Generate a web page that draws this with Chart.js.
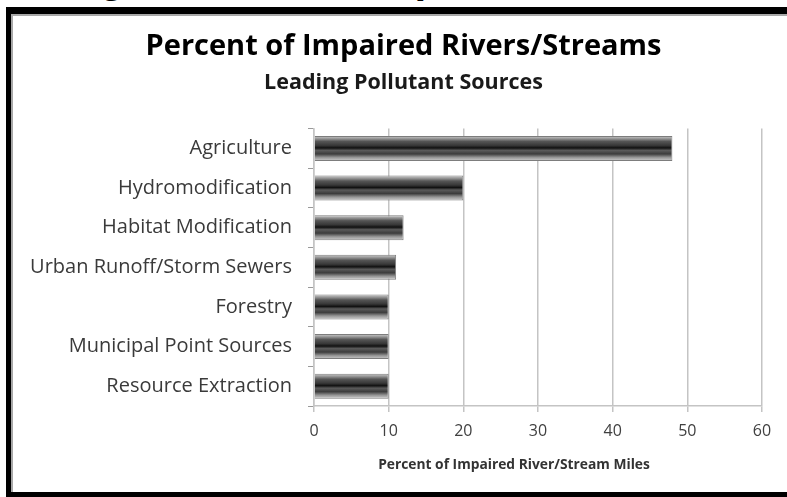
<!DOCTYPE html>
<html>
<head>
<meta charset="utf-8">
<script src="https://cdn.jsdelivr.net/npm/chart.js@4/dist/chart.umd.min.js"></script>
<style>
  html, body { margin: 0; padding: 0; background: #fff; overflow: hidden; }
  body { width: 787px; height: 497px; position: relative; }
  #cut { position: absolute; left: -36px; top: -43px; font: bold 42px "Liberation Sans", Arial, sans-serif; line-height: 42px; color: #000; white-space: nowrap; }
  #frame { position: absolute; left: 6px; top: 7px; width: 820px; height: 490px; box-sizing: border-box;
           border-left: 5px solid #000; border-top: 7px solid #000; border-bottom: 5px solid #000;
           box-shadow: inset 2px 2px 0 #a8a8a8; pointer-events: none; }
  #c { position: absolute; left: 0; top: 0; }
</style>
</head>
<body>
<div id="cut">Leading Sources of Impairment</div>
<canvas id="c" width="787" height="497"></canvas>
<div id="frame"></div>
<script>
const categories = ['Agriculture', 'Hydromodification', 'Habitat Modification', 'Urban Runoff/Storm Sewers', 'Forestry', 'Municipal Point Sources', 'Resource Extraction'];
const percentImpaired = [48, 20, 12, 11, 10, 10, 10];
const xTickValues = [0, 10, 20, 30, 40, 50, 60];
const chartTitle = 'Percent of Impaired Rivers/Streams';
const chartSubtitle = 'Leading Pollutant Sources';
const xAxisTitle = 'Percent of Impaired River/Stream Miles';

const FONT = '"Open Sans", Lato, sans-serif';
const BAR_PCT = 0.63;

function barGradient(ctx) {
  const chart = ctx.chart;
  const area = chart.chartArea;
  if (!area || !chart.scales.y) return '#444';
  const yScale = chart.scales.y;
  const yc = yScale.getPixelForValue(ctx.dataIndex);
  const h = (area.bottom - area.top) / categories.length * BAR_PCT;
  const g = chart.ctx.createLinearGradient(0, yc - h / 2, 0, yc + h / 2);
  g.addColorStop(0.00, '#d0d0d0');
  g.addColorStop(0.12, '#8f8f8f');
  g.addColorStop(0.22, '#555555');
  g.addColorStop(0.38, '#383838');
  g.addColorStop(0.48, '#111111');
  g.addColorStop(0.58, '#5a5a5a');
  g.addColorStop(0.72, '#3c3c3c');
  g.addColorStop(0.86, '#959595');
  g.addColorStop(1.00, '#cfcfcf');
  return g;
}

// Let long category labels extend into the left padding instead of being clipped,
// and offset the x-axis title as in the original chart.
const layoutTweaks = {
  id: 'layoutTweaks',
  afterLayout(chart) {
    const y = chart.scales.y;
    if (y) y.left = 0;
  },
  beforeDraw(chart) {
    const s = chart.scales.x;
    if (s && !s.__shifted) {
      const orig = s.drawTitle.bind(s);
      s.drawTitle = function () {
        const c = this.ctx;
        c.save();
        c.translate(-24, 0);
        orig();
        c.restore();
      };
      s.__shifted = true;
    }
  }
};

new Chart(document.getElementById('c'), {
  type: 'bar',
  data: {
    labels: categories,
    datasets: [{
      label: 'Percent of Impaired River/Stream Miles',
      data: percentImpaired,
      backgroundColor: barGradient,
      borderColor: '#7d7d7d',
      borderWidth: 1,
      barPercentage: BAR_PCT,
      categoryPercentage: 1
    }]
  },
  options: {
    indexAxis: 'y',
    responsive: false,
    animation: false,
    devicePixelRatio: 1,
    layout: { padding: { left: 45, right: 25, top: 0, bottom: 0 } },
    plugins: {
      legend: { display: false },
      tooltip: { enabled: false },
      title: {
        display: true, text: chartTitle, color: '#000',
        font: { family: FONT, size: 29, weight: 'bold', lineHeight: 1.2 },
        padding: { top: 29, bottom: 0 }
      },
      subtitle: {
        display: true, text: chartSubtitle, color: '#1a1a1a',
        font: { family: FONT, size: 21.5, weight: 'bold', lineHeight: 1.2 },
        padding: { top: 6, bottom: 33 }
      }
    },
    scales: {
      x: {
        type: 'linear', min: 0, max: 60,
        afterBuildTicks(scale) { scale.ticks = xTickValues.map(v => ({ value: v })); },
        afterFit(scale) { scale.height = 91; },
        grid: { color: '#c4c4c4', lineWidth: 1.5, drawTicks: true, tickLength: 6, tickColor: '#c4c4c4' },
        border: { display: true, color: '#c4c4c4', width: 1.5 },
        ticks: { color: '#404040', padding: 10, font: { family: FONT, size: 16 } },
        title: {
          display: true, text: xAxisTitle, color: '#333',
          font: { family: FONT, size: 13.8, weight: 'bold', lineHeight: 1.2 },
          padding: { top: 0, bottom: 24 }
        }
      },
      y: {
        afterFit(scale) { scale.width = 314 - 45; },
        grid: { display: true, drawOnChartArea: false, drawTicks: true, tickLength: 6, color: '#9a9a9a', offset: true },
        border: { display: true, color: '#c4c4c4', width: 1.5 },
        ticks: { color: '#3a3a3a', padding: 16, font: { family: FONT, size: 20 } }
      }
    }
  },
  plugins: [layoutTweaks]
});
</script>
</body>
</html>
